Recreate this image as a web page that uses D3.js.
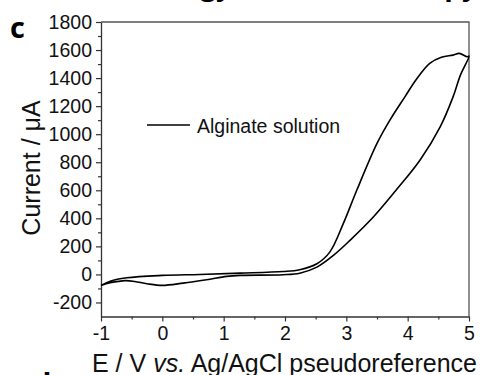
<!DOCTYPE html>
<html>
<head>
<meta charset="utf-8">
<script src="https://cdn.jsdelivr.net/npm/d3@7"></script>
<style>
  body { margin: 0; background: #fff; }
  svg { display: block; font-family: "Liberation Sans", Arial, sans-serif; }
</style>
</head>
<body>
<div id="cv-chart"></div>
<script>
(function() {
    const width = 481;
    const height = 375;

    // plot box (pixels)
    const left = 101, right = 469, top = 22, bottom = 316.5;

    // CV loop, scan from -1 V up to 5 V and back (potential V, current uA)
    const potential = [
        -1.00, -0.85, -0.60, -0.45, -0.25, 0.00, 0.34, 0.72, 1.05, 1.27, 1.97, 2.24, 2.52, 2.79, 3.06, 3.44,
        3.81, 4.20, 4.53, 4.74, 4.86, 5.00,
        4.97, 4.84, 4.74, 4.55, 4.36, 4.14, 3.96, 3.71, 3.50, 3.17, 2.95, 2.73, 2.52, 2.24, 1.97, 1.27,
        0.61, 0.00, -0.58, -0.85, -1.00
    ];
    const current = [
        -79, -60, -44, -50, -66, -78, -62, -38, -14, -7, -2, 9, 52, 136, 243, 409,
        600, 814, 1052, 1266, 1421, 1557,
        1552, 1576, 1564, 1548, 1505, 1390, 1270, 1100, 934, 600, 362, 159, 76, 34, 21, 9,
        0, -7, -24, -48, -79
    ];

    const xMajor = [-1, 0, 1, 2, 3, 4, 5];
    const xMinor = [-0.5, 0.5, 1.5, 2.5, 3.5, 4.5];
    const yMajor = [-200, 0, 200, 400, 600, 800, 1000, 1200, 1400, 1600, 1800];
    const yMinor = [-100, 100, 300, 500, 700, 900, 1100, 1300, 1500, 1700];

    const seriesName = "Alginate solution";

    const svg = d3.select("#cv-chart").append("svg")
        .attr("width", width)
        .attr("height", height);

    const x = d3.scaleLinear().domain([-1, 5]).range([left, right]);
    const y = d3.scaleLinear().domain([-300, 1800]).range([bottom, top]);

    // frame (top + right)
    svg.append("path")
        .attr("d", `M${left},${top}H${right}V${bottom}`)
        .attr("fill", "none")
        .attr("stroke", "#555")
        .attr("stroke-width", 1.3);

    // minor ticks
    svg.append("g")
        .attr("transform", `translate(0,${bottom})`)
        .call(d3.axisBottom(x).tickValues(xMinor).tickSize(3).tickFormat(""))
        .call(g => g.select(".domain").remove());
    svg.append("g")
        .attr("transform", `translate(${left},0)`)
        .call(d3.axisLeft(y).tickValues(yMinor).tickSize(3).tickFormat(""))
        .call(g => g.select(".domain").remove());

    // major axes
    const xAxis = svg.append("g")
        .attr("transform", `translate(0,${bottom})`)
        .call(d3.axisBottom(x).tickValues(xMajor).tickSize(5).tickSizeOuter(0)
            .tickPadding(5).tickFormat(d => String(d)));
    const yAxis = svg.append("g")
        .attr("transform", `translate(${left},0)`)
        .call(d3.axisLeft(y).tickValues(yMajor).tickSize(5).tickSizeOuter(0)
            .tickPadding(4).tickFormat(d => String(d)));

    svg.selectAll(".tick line").attr("stroke", "#333").attr("stroke-width", 1.2);
    svg.selectAll(".domain").attr("stroke", "#333").attr("stroke-width", 1.3);
    [xAxis, yAxis].forEach(a => a.selectAll("text")
        .style("font-family", "'Liberation Sans', Arial, sans-serif")
        .style("font-size", "19.5px")
        .attr("fill", "#111"));

    // the loop
    const pts = potential.map((v, i) => [v, current[i]]);
    const line = d3.line()
        .x(d => x(d[0]))
        .y(d => y(d[1]))
        .curve(d3.curveCatmullRom.alpha(0.5));

    svg.append("path")
        .datum(pts)
        .attr("d", line)
        .attr("fill", "none")
        .attr("stroke", "#000")
        .attr("stroke-width", 1.6)
        .attr("stroke-linejoin", "round");

    // legend
    svg.append("line")
        .attr("x1", 147).attr("x2", 190)
        .attr("y1", 125).attr("y2", 125)
        .attr("stroke", "#000")
        .attr("stroke-width", 1.6);
    svg.append("text")
        .attr("x", 197).attr("y", 132.5)
        .attr("font-size", 19.5)
        .attr("fill", "#111")
        .text(seriesName);

    // axis titles
    svg.append("text")
        .attr("transform", "translate(39.5,168) rotate(-90)")
        .attr("text-anchor", "middle")
        .attr("font-size", 25)
        .attr("fill", "#111")
        .text("Current / \u03bcA");

    const xt = svg.append("text")
        .attr("x", 92).attr("y", 372)
        .attr("font-size", 25)
        .attr("fill", "#111");
    xt.append("tspan").text("E / V ");
    xt.append("tspan").attr("font-style", "italic").text("vs.");
    xt.append("tspan").text(" Ag/AgCl pseudoreference");

    // panel letter
    svg.append("text")
        .attr("x", 10).attr("y", 37.5)
        .attr("font-family", "'Open Sans', sans-serif")
        .attr("font-weight", "bold")
        .attr("font-size", 29)
        .attr("fill", "#000")
        .text("c");

    // cut-off bits of the neighbouring figure text
    svg.append("text")
        .attr("x", 232).attr("y", -5)
        .attr("text-anchor", "end")
        .attr("font-family", "'Open Sans', sans-serif")
        .attr("font-weight", "bold")
        .attr("font-size", 28)
        .text("Strategy");
    svg.append("text")
        .attr("x", 478).attr("y", -5)
        .attr("text-anchor", "end")
        .attr("font-family", "'Open Sans', sans-serif")
        .attr("font-weight", "bold")
        .attr("font-size", 28)
        .text("Copy");
    svg.append("text")
        .attr("x", 33).attr("y", 394)
        .attr("font-family", "'Open Sans', sans-serif")
        .attr("font-weight", "bold")
        .attr("font-size", 29)
        .text("d");
})();
</script>
</body>
</html>
